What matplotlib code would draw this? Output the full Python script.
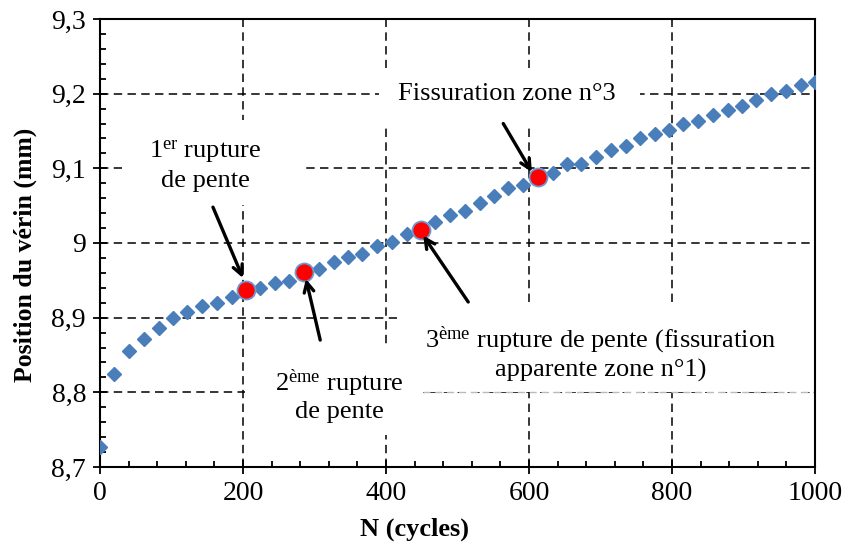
import matplotlib
matplotlib.use("Agg")
import matplotlib.pyplot as plt
from matplotlib.patches import Rectangle
from matplotlib.ticker import FixedLocator, FixedFormatter, MultipleLocator

plt.rcParams['font.family'] = ['Liberation Serif', 'DejaVu Serif']
plt.rcParams['mathtext.fontset'] = 'custom'
plt.rcParams['mathtext.rm'] = 'Liberation Serif'
plt.rcParams['mathtext.it'] = 'Liberation Serif:italic'
plt.rcParams['mathtext.bf'] = 'Liberation Serif:bold'

# ---- data ----
cycles = [0, 20, 41, 61, 82, 102, 122, 143, 163, 184, 204, 224, 245, 265, 286,
          306, 327, 347, 367, 388, 408, 429, 449, 469, 490, 510, 531, 551, 571,
          592, 612, 633, 653, 673, 694, 714, 735, 755, 776, 796, 816, 837, 857,
          878, 898, 918, 939, 959, 980, 1000]
position = [8.727, 8.825, 8.856, 8.871, 8.886, 8.900, 8.907, 8.915, 8.919, 8.928,
            8.937, 8.940, 8.946, 8.949, 8.961, 8.965, 8.974, 8.981, 8.985, 8.996,
            9.002, 9.012, 9.018, 9.028, 9.037, 9.043, 9.053, 9.063, 9.073, 9.078,
            9.089, 9.094, 9.106, 9.106, 9.115, 9.124, 9.130, 9.140, 9.146, 9.151,
            9.159, 9.164, 9.172, 9.178, 9.184, 9.192, 9.200, 9.204, 9.212, 9.215]
rupture_x = [204, 286, 449, 612]
rupture_y = [8.937, 8.961, 9.018, 9.089]

x_ticks = [0, 200, 400, 600, 800, 1000]
x_tick_labels = ['0', '200', '400', '600', '800', '1000']
y_ticks = [8.7, 8.8, 8.9, 9.0, 9.1, 9.2, 9.3]
y_tick_labels = ['8,7', '8,8', '8,9', '9', '9,1', '9,2', '9,3']

fig = plt.figure(figsize=(8.42, 5.46), dpi=100)
ax = fig.add_axes([100/842, 1-467/546, 715/842, 448/546])

ax.plot(cycles, position, linestyle='none', marker='D', markersize=7,
        color='#4A7EBB', zorder=3)
ax.plot(rupture_x, rupture_y, linestyle='none', marker='o', markersize=13,
        markerfacecolor='#FF0000', markeredgecolor='#6D9AD3', markeredgewidth=1.3,
        zorder=4)

ax.set_xlim(0, 1000)
ax.set_ylim(8.7, 9.3)
ax.xaxis.set_major_locator(FixedLocator(x_ticks))
ax.xaxis.set_major_formatter(FixedFormatter(x_tick_labels))
ax.yaxis.set_major_locator(FixedLocator(y_ticks))
ax.yaxis.set_major_formatter(FixedFormatter(y_tick_labels))
ax.xaxis.set_minor_locator(MultipleLocator(40))
ax.yaxis.set_minor_locator(MultipleLocator(0.02))

ax.tick_params(which='major', direction='inout', length=10, width=1.3,
               labelsize=20, colors='black', pad=5)
ax.tick_params(which='minor', direction='in', length=4, width=1.3)
for s in ax.spines.values():
    s.set_linewidth(1.5)

ax.set_axisbelow(True)
ax.grid(True, which='major', color='black', linestyle=(0, (5.5, 3.5)), linewidth=1.1)

# white text boxes hiding gridlines
boxes = [(390, 9.158, 365, 0.077),
         (31, 9.051, 253, 0.114),
         (203, 8.743, 249, 0.120),
         (415, 8.801, 585, 0.120)]
for bx, by, bw, bh in boxes:
    ax.add_patch(Rectangle((bx, by), bw, bh, facecolor='white', edgecolor='none', zorder=1))
ax.hlines(8.8, 452, 1000, colors='#BBBBBB', linestyles=(0, (5, 3.5)), linewidth=1.0, zorder=1.2)

ax.set_xlabel('N (cycles)', fontsize=19, fontweight='bold')
ax.xaxis.set_label_coords(0.44, -0.14)
ax.set_ylabel('Position du vérin (mm)', fontsize=18.5, fontweight='bold')
ax.yaxis.set_label_coords(-0.105, 0.473)
ax.xaxis.label.set_va('center')
ax.yaxis.label.set_va('center')

tfs = 19
ax.text(569, 9.2, 'Fissuration zone n°3', fontsize=tfs, ha='center', va='center', zorder=5)
ax.text(147, 9.104, '1$^{\\mathrm{er}}$ rupture\nde pente', fontsize=tfs, ha='center',
        va='center', linespacing=1.3, zorder=5)
ax.text(335, 8.796, '2$^{\\mathrm{ème}}$ rupture\nde pente', fontsize=tfs, ha='center',
        va='center', linespacing=1.15, zorder=5)
ax.text(700, 8.852, '3$^{\\mathrm{ème}}$ rupture de pente (fissuration\napparente zone n°1)',
        fontsize=tfs, ha='center', va='center', linespacing=1.2, zorder=5)

arrow = dict(arrowstyle='->,head_length=0.7,head_width=0.35', color='black', lw=2.4,
             shrinkA=0, shrinkB=0)
ax.annotate('', xy=(604, 9.095), xytext=(564, 9.160), arrowprops=arrow, zorder=6)
ax.annotate('', xy=(200, 8.953), xytext=(158, 9.048), arrowprops=arrow, zorder=6)
ax.annotate('', xy=(288, 8.952), xytext=(308, 8.870), arrowprops=arrow, zorder=6)
ax.annotate('', xy=(452, 9.010), xytext=(515, 8.921), arrowprops=arrow, zorder=6)

fig.savefig('out.png', dpi=100)
